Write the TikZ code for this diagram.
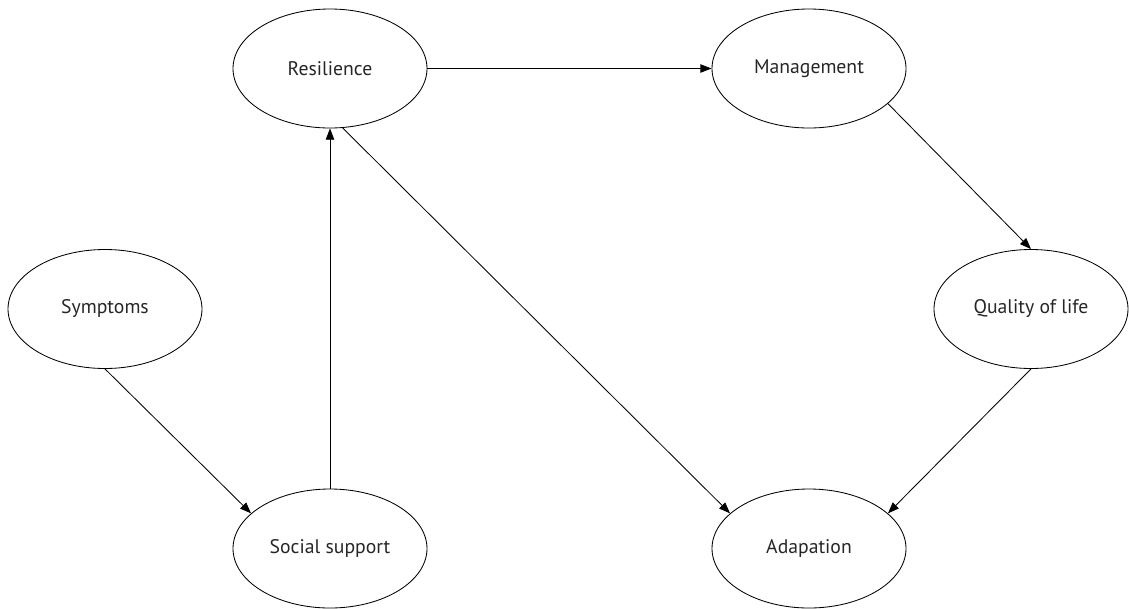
\documentclass[tikz,border=0pt]{standalone}
\usepackage{fontspec}
\setmainfont{PT Sans}
\usetikzlibrary{shapes.geometric, arrows.meta}

\tikzset{
  factor/.style={ellipse, draw, line width=0.6pt, minimum width=4.85cm,
    minimum height=2.975cm, inner sep=0pt, font=\fontsize{14}{16}\selectfont,
    text=black!85},
  link/.style={->, line width=0.6pt}
}

\begin{document}
\begin{tikzpicture}[>={Triangle[length=8pt, width=6pt]}]

    % 定义各列与各行的位置
    \def\colA{2.625}
    \def\colB{8.25}
    \def\colC{20.225}
    \def\colD{25.775}
    \def\rowA{-1.7125}
    \def\rowB{-7.725}
    \def\rowC{-13.7125}

    \useasboundingbox (0,0) rectangle (28.225,-15.2);

    % 节点
    \node[factor] (symptoms) at (\colA, \rowB) {Symptoms};
    \node[factor] (social) at (\colB, \rowC) {Social support};
    \node[factor] (resilience) at (\colB, \rowA) {Resilience};
    \node[factor] (management) at (\colC, \rowA) {Management};
    \node[factor] (quality) at (\colD, \rowB) {Quality of life};
    \node[factor] (adaptation) at (\colC, \rowC) {Adapation};

    % 连线
    \draw[link] (symptoms.south) -- (social.156);
    \draw[link] (social.north) -- (resilience.south);
    \draw[link] (resilience.east) -- (management.west);
    \draw[link] (resilience.-78) -- (adaptation.156);
    \draw[link] (management.-24) -- (quality.north);
    \draw[link] (quality.south) -- (adaptation.24);

\end{tikzpicture}
\end{document}
